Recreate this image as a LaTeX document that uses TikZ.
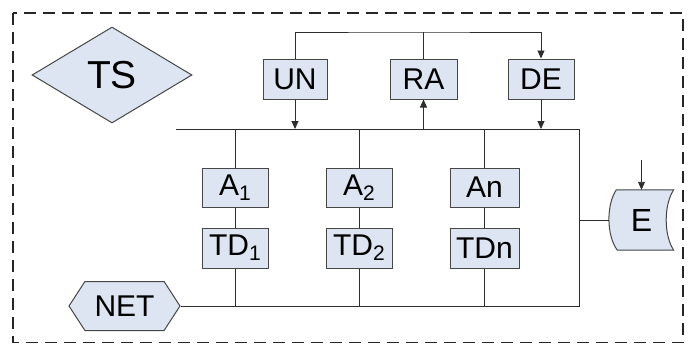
\documentclass[tikz,border=0pt]{standalone}
\usepackage{fontspec}
\setmainfont{Liberation Sans}
\usetikzlibrary{arrows.meta,shapes.geometric,shapes.symbols,calc}
\definecolor{boxfill}{RGB}{220,229,241}
\definecolor{boxline}{RGB}{70,70,70}
\definecolor{wire}{RGB}{45,45,45}
\newcommand\lowsub[1]{\raisebox{-5pt}{\fontsize{21}{21}\selectfont #1}}
\tikzset{
  blk/.style={draw=boxline,fill=boxfill,line width=1pt,inner sep=0pt,
    minimum height=40pt,font=\fontsize{30}{30}\selectfont},
  wireline/.style={draw=wire,line width=0.9pt},
  arr/.style={wireline,-{Triangle[length=8pt,width=7pt]}},
  frame/.style={draw=black!85,line width=1.6pt,dash pattern=on 12pt off 7pt}
}
\begin{document}
\begin{tikzpicture}[x=1pt,y=-1pt]
\useasboundingbox (0,0) rectangle (691,343);
% outer dashed frame
\draw[frame] (13,13) rectangle (683,342.5);

% decision symbol
\node[blk,shape=diamond,minimum width=160pt,minimum height=96pt,
      font=\fontsize{39}{39}\selectfont] (TS) at (112,75) {TS};

% control blocks
\node[blk,minimum width=64pt] (UN) at (295,79) {UN};
\node[blk,minimum width=67pt] (RA) at (423.5,79) {RA};
\node[blk,minimum width=66pt] (DE) at (541,79) {DE};

% agents and their terminals
\node[blk,minimum width=66pt,minimum height=39pt] (A1) at (235,187.5) {A\lowsub{1}};
\node[blk,minimum width=66pt] (TD1) at (235,248) {TD\lowsub{1}};
\node[blk,minimum width=66pt,minimum height=39pt] (A2) at (359,187.5) {A\lowsub{2}};
\node[blk,minimum width=66pt] (TD2) at (359,248) {TD\lowsub{2}};
\node[blk,minimum width=69pt,minimum height=39pt] (An) at (484.5,187.5) {An};
\node[blk,minimum width=69pt] (TDn) at (484.5,248) {TDn};

% network terminal
\node[blk,shape=signal,signal to=west and east,signal pointer angle=114,
      minimum width=111pt,minimum height=49pt,font=\fontsize{30}{30}\selectfont]
      (NET) at (124.5,306) {NET};

% stored data symbol
\node[inner sep=0pt,minimum width=64pt,minimum height=60pt] (E) at (641.5,220) {};
\draw[draw=boxline,fill=boxfill,line width=1pt]
  ($(E.north west)+(7,0)$) -- (E.north east)
  .. controls ($(E.north east)+(-10,15)$) and ($(E.south east)+(-10,-15)$) .. (E.south east)
  -- ($(E.south west)+(8,0)$)
  .. controls ($(E.south west)+(-3,-15)$) and ($(E.north west)+(-3,15)$) .. ($(E.north west)+(7,0)$)
  -- cycle;
\node[inner sep=0pt,font=\fontsize{32}{32}\selectfont] (Elabel) at (E.center) {E};

% wiring points
\coordinate (tl) at (400,32);
\coordinate (busL) at (176,129);
\coordinate (busR) at (579,129);
\coordinate (ein) at (641.5,160);

% upper feedback line
\draw[arr] (UN.north) |- (tl) -| (DE.north);
\draw[wireline] (RA.north) -- (RA.north |- tl);

% main bus
\draw[wireline] (busL) -- (busR);
\draw[arr] (UN.south) -- (UN.south |- busL);
\draw[arr] (RA.south |- busL) -- (RA.south);
\draw[arr] (DE.south) -- (DE.south |- busL);

% agent branches
\foreach \a/\t in {A1/TD1,A2/TD2,An/TDn}{
  \draw[wireline] (\a.north |- busL) -- (\a.north);
  \draw[wireline] (\a.south) -- (\t.north);
  \draw[wireline] (\t.south) -- (\t.south |- NET.east);
}

% network line and return to bus
\draw[wireline] (NET.east) -| (busR);
\draw[wireline] (E.west) -- (E.west -| busR);
\draw[arr] (ein) -- (E.north);
\end{tikzpicture}
\end{document}
